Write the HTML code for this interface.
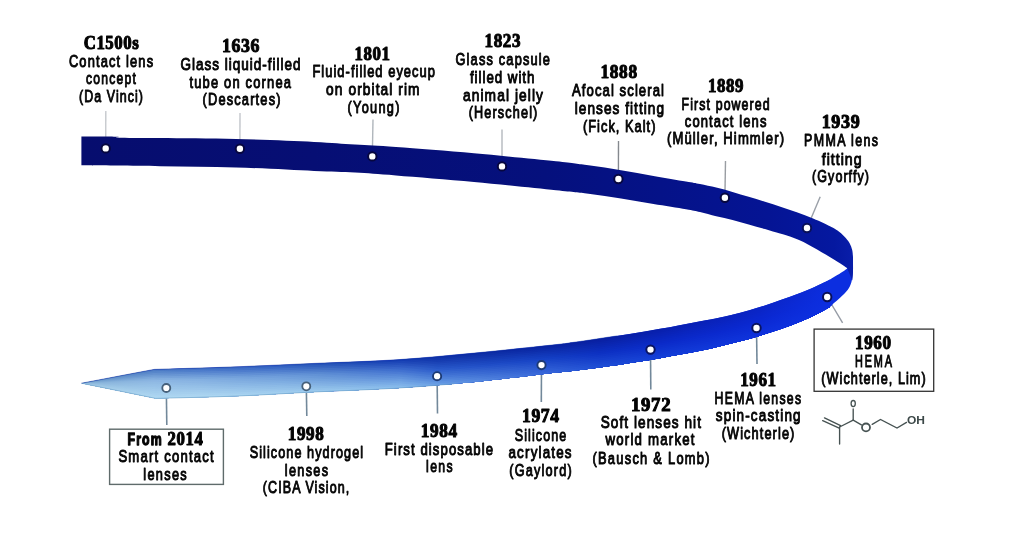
<!DOCTYPE html>
<html lang="en">
<head>
<meta charset="utf-8">
<title>Contact lens timeline</title>
<style>
html,body{margin:0;padding:0;background:#fff;}
body{width:1024px;height:554px;overflow:hidden;font-family:"Liberation Sans",sans-serif;}
svg{display:block;}
.y{font-family:"Liberation Serif",serif;font-weight:bold;font-size:18px;fill:#030303;stroke:#030303;stroke-width:1.0px;stroke-linejoin:round;}
.d{font-family:"Liberation Sans",sans-serif;font-size:17.4px;fill:#050505;stroke:#050505;stroke-width:1.0px;stroke-linejoin:round;}
.fb{font-family:"Liberation Sans",sans-serif;font-weight:bold;font-size:17px;fill:#030303;stroke:#030303;stroke-width:1.3px;stroke-linejoin:round;}
.c{stroke:#c2c6cc;stroke-width:1.4;fill:none;}
.cb{stroke:#72889a;stroke-width:1.6;fill:none;}
.chem{stroke:#465252;stroke-width:1.35;fill:none;stroke-linecap:round;}
.ct{font-family:"Liberation Sans",sans-serif;font-weight:bold;fill:#3c4848;}
</style>
</head>
<body>
<svg width="1024" height="554" viewBox="0 0 1024 554">
<defs>
<linearGradient id="gt" gradientUnits="userSpaceOnUse" x1="81" y1="0" x2="854" y2="0">
<stop offset="0" stop-color="#060d6e"/>
<stop offset=".3" stop-color="#060e74"/>
<stop offset=".6" stop-color="#05107d"/>
<stop offset=".75" stop-color="#051288"/>
<stop offset=".89" stop-color="#051494"/>
<stop offset=".975" stop-color="#0518a0"/>
<stop offset="1" stop-color="#091eaa"/>
</linearGradient>
<linearGradient id="s0" gradientUnits="userSpaceOnUse" x1="81.5" y1="0" x2="836" y2="0"><stop offset="0.0000" stop-color="#6c9cc9"/><stop offset="0.0974" stop-color="#4c7bc5"/><stop offset="0.1571" stop-color="#4271c6"/><stop offset="0.2631" stop-color="#2f5ec0"/><stop offset="0.3161" stop-color="#2553b7"/><stop offset="0.4221" stop-color="#143db3"/><stop offset="0.4712" stop-color="#0e31a7"/><stop offset="0.5414" stop-color="#0b2aa3"/><stop offset="0.6143" stop-color="#0924a1"/><stop offset="0.6872" stop-color="#081fa0"/><stop offset="0.7667" stop-color="#081fac"/><stop offset="0.8993" stop-color="#0a24c5"/><stop offset="1.0000" stop-color="#0c2ee0"/></linearGradient>
<linearGradient id="s1" gradientUnits="userSpaceOnUse" x1="81.5" y1="0" x2="836" y2="0"><stop offset="0.0000" stop-color="#71a0cc"/><stop offset="0.0974" stop-color="#5786ca"/><stop offset="0.1571" stop-color="#4d7ccb"/><stop offset="0.2631" stop-color="#3a69c5"/><stop offset="0.3161" stop-color="#2f5ebc"/><stop offset="0.4221" stop-color="#1c46b8"/><stop offset="0.4712" stop-color="#1237ac"/><stop offset="0.5414" stop-color="#0e30a8"/><stop offset="0.6143" stop-color="#0a28a6"/><stop offset="0.6872" stop-color="#0921a5"/><stop offset="0.7667" stop-color="#0820b0"/><stop offset="0.8993" stop-color="#0a25c7"/><stop offset="1.0000" stop-color="#0c2ee0"/></linearGradient>
<linearGradient id="s2" gradientUnits="userSpaceOnUse" x1="81.5" y1="0" x2="836" y2="0"><stop offset="0.0000" stop-color="#76a4cf"/><stop offset="0.0974" stop-color="#6390cf"/><stop offset="0.1571" stop-color="#5987d0"/><stop offset="0.2631" stop-color="#4574ca"/><stop offset="0.3161" stop-color="#3968c1"/><stop offset="0.4221" stop-color="#244fbd"/><stop offset="0.4712" stop-color="#163db1"/><stop offset="0.5414" stop-color="#1134ad"/><stop offset="0.6143" stop-color="#0c2cab"/><stop offset="0.6872" stop-color="#0924a9"/><stop offset="0.7667" stop-color="#0922b3"/><stop offset="0.8993" stop-color="#0a25c8"/><stop offset="1.0000" stop-color="#0c2ee0"/></linearGradient>
<linearGradient id="s3" gradientUnits="userSpaceOnUse" x1="81.5" y1="0" x2="836" y2="0"><stop offset="0.0000" stop-color="#7aa8d1"/><stop offset="0.0974" stop-color="#6e9bd4"/><stop offset="0.1571" stop-color="#6492d4"/><stop offset="0.2631" stop-color="#507fce"/><stop offset="0.3161" stop-color="#4473c6"/><stop offset="0.4221" stop-color="#2c58c2"/><stop offset="0.4712" stop-color="#1b43b6"/><stop offset="0.5414" stop-color="#143ab2"/><stop offset="0.6143" stop-color="#0e31b0"/><stop offset="0.6872" stop-color="#0a26ae"/><stop offset="0.7667" stop-color="#0923b7"/><stop offset="0.8993" stop-color="#0a26ca"/><stop offset="1.0000" stop-color="#0c2ee0"/></linearGradient>
<linearGradient id="s4" gradientUnits="userSpaceOnUse" x1="81.5" y1="0" x2="836" y2="0"><stop offset="0.0000" stop-color="#7facd4"/><stop offset="0.0974" stop-color="#7aa5da"/><stop offset="0.1571" stop-color="#709dd9"/><stop offset="0.2631" stop-color="#5b8ad3"/><stop offset="0.3161" stop-color="#4e7dcc"/><stop offset="0.4221" stop-color="#3461c8"/><stop offset="0.4712" stop-color="#1f4abc"/><stop offset="0.5414" stop-color="#163eb8"/><stop offset="0.6143" stop-color="#1035b6"/><stop offset="0.6872" stop-color="#0a28b2"/><stop offset="0.7667" stop-color="#0925bb"/><stop offset="0.8993" stop-color="#0a26cc"/><stop offset="1.0000" stop-color="#0c2ee0"/></linearGradient>
<linearGradient id="s5" gradientUnits="userSpaceOnUse" x1="81.5" y1="0" x2="836" y2="0"><stop offset="0.0000" stop-color="#83b0d6"/><stop offset="0.0974" stop-color="#85b0df"/><stop offset="0.1571" stop-color="#7ba8dd"/><stop offset="0.2631" stop-color="#6695d7"/><stop offset="0.3161" stop-color="#5888d1"/><stop offset="0.4221" stop-color="#3b6bcd"/><stop offset="0.4712" stop-color="#2350c1"/><stop offset="0.5414" stop-color="#1944bd"/><stop offset="0.6143" stop-color="#1139bb"/><stop offset="0.6872" stop-color="#0b2ab7"/><stop offset="0.7667" stop-color="#0926bf"/><stop offset="0.8993" stop-color="#0a27ce"/><stop offset="1.0000" stop-color="#0c2ee0"/></linearGradient>
<linearGradient id="s6" gradientUnits="userSpaceOnUse" x1="81.5" y1="0" x2="836" y2="0"><stop offset="0.0000" stop-color="#87b3d9"/><stop offset="0.0974" stop-color="#8eb7e3"/><stop offset="0.1571" stop-color="#84b0e1"/><stop offset="0.2631" stop-color="#6e9ddb"/><stop offset="0.3161" stop-color="#6191d5"/><stop offset="0.4221" stop-color="#4373d1"/><stop offset="0.4712" stop-color="#2756c6"/><stop offset="0.5414" stop-color="#1c48c2"/><stop offset="0.6143" stop-color="#133dc0"/><stop offset="0.6872" stop-color="#0b2dbb"/><stop offset="0.7667" stop-color="#0a28c2"/><stop offset="0.8993" stop-color="#0a27cf"/><stop offset="1.0000" stop-color="#0c2ee0"/></linearGradient>
<linearGradient id="s7" gradientUnits="userSpaceOnUse" x1="81.5" y1="0" x2="836" y2="0"><stop offset="0.0000" stop-color="#8ab5da"/><stop offset="0.0974" stop-color="#91bbe4"/><stop offset="0.1571" stop-color="#89b4e3"/><stop offset="0.2631" stop-color="#74a3dd"/><stop offset="0.3161" stop-color="#6797d8"/><stop offset="0.4221" stop-color="#4b7bd4"/><stop offset="0.4712" stop-color="#2c5ccb"/><stop offset="0.5414" stop-color="#204ec7"/><stop offset="0.6143" stop-color="#1541c5"/><stop offset="0.6872" stop-color="#0c2fc0"/><stop offset="0.7667" stop-color="#0a29c6"/><stop offset="0.8993" stop-color="#0a28d1"/><stop offset="1.0000" stop-color="#0c2ee0"/></linearGradient>
<linearGradient id="s8" gradientUnits="userSpaceOnUse" x1="81.5" y1="0" x2="836" y2="0"><stop offset="0.0000" stop-color="#8db8db"/><stop offset="0.0974" stop-color="#95bfe6"/><stop offset="0.1571" stop-color="#8db8e4"/><stop offset="0.2631" stop-color="#7aa8df"/><stop offset="0.3161" stop-color="#6d9dda"/><stop offset="0.4221" stop-color="#5384d7"/><stop offset="0.4712" stop-color="#3465ce"/><stop offset="0.5414" stop-color="#2654ca"/><stop offset="0.6143" stop-color="#1946c7"/><stop offset="0.6872" stop-color="#0d32c3"/><stop offset="0.7667" stop-color="#0b2bc9"/><stop offset="0.8993" stop-color="#0a29d3"/><stop offset="1.0000" stop-color="#0c2ee0"/></linearGradient>
<linearGradient id="s9" gradientUnits="userSpaceOnUse" x1="81.5" y1="0" x2="836" y2="0"><stop offset="0.0000" stop-color="#90badd"/><stop offset="0.0974" stop-color="#98c2e8"/><stop offset="0.1571" stop-color="#92bde6"/><stop offset="0.2631" stop-color="#7faee2"/><stop offset="0.3161" stop-color="#73a3dd"/><stop offset="0.4221" stop-color="#5a8cda"/><stop offset="0.4712" stop-color="#3b6dd1"/><stop offset="0.5414" stop-color="#2c5bcc"/><stop offset="0.6143" stop-color="#1d4aca"/><stop offset="0.6872" stop-color="#1036c6"/><stop offset="0.7667" stop-color="#0c2ecb"/><stop offset="0.8993" stop-color="#0b2ad4"/><stop offset="1.0000" stop-color="#0c2ee0"/></linearGradient>
<linearGradient id="s10" gradientUnits="userSpaceOnUse" x1="81.5" y1="0" x2="836" y2="0"><stop offset="0.0000" stop-color="#92bdde"/><stop offset="0.0974" stop-color="#9cc6e9"/><stop offset="0.1571" stop-color="#96c1e8"/><stop offset="0.2631" stop-color="#85b3e4"/><stop offset="0.3161" stop-color="#7aa9e0"/><stop offset="0.4221" stop-color="#6294dd"/><stop offset="0.4712" stop-color="#4375d4"/><stop offset="0.5414" stop-color="#3261cf"/><stop offset="0.6143" stop-color="#224fcc"/><stop offset="0.6872" stop-color="#123ac8"/><stop offset="0.7667" stop-color="#0d31cd"/><stop offset="0.8993" stop-color="#0b2bd5"/><stop offset="1.0000" stop-color="#0c2ee0"/></linearGradient>
<linearGradient id="s11" gradientUnits="userSpaceOnUse" x1="81.5" y1="0" x2="836" y2="0"><stop offset="0.0000" stop-color="#95bfe0"/><stop offset="0.0974" stop-color="#a0c9eb"/><stop offset="0.1571" stop-color="#9bc5ea"/><stop offset="0.2631" stop-color="#8bb9e6"/><stop offset="0.3161" stop-color="#80afe2"/><stop offset="0.4221" stop-color="#6a9ce0"/><stop offset="0.4712" stop-color="#4a7dd8"/><stop offset="0.5414" stop-color="#3767d2"/><stop offset="0.6143" stop-color="#2654cf"/><stop offset="0.6872" stop-color="#153ecb"/><stop offset="0.7667" stop-color="#0e34cf"/><stop offset="0.8993" stop-color="#0c2cd6"/><stop offset="1.0000" stop-color="#0c2ee0"/></linearGradient>
<linearGradient id="s12" gradientUnits="userSpaceOnUse" x1="81.5" y1="0" x2="836" y2="0"><stop offset="0.0000" stop-color="#98c2e1"/><stop offset="0.0974" stop-color="#a3cdec"/><stop offset="0.1571" stop-color="#a0caec"/><stop offset="0.2631" stop-color="#90bee8"/><stop offset="0.3161" stop-color="#86b5e5"/><stop offset="0.4221" stop-color="#71a4e3"/><stop offset="0.4712" stop-color="#5285db"/><stop offset="0.5414" stop-color="#3d6ed4"/><stop offset="0.6143" stop-color="#2a58d1"/><stop offset="0.6872" stop-color="#1742cd"/><stop offset="0.7667" stop-color="#1036d1"/><stop offset="0.8993" stop-color="#0c2ed8"/><stop offset="1.0000" stop-color="#0c2ee0"/></linearGradient>
<linearGradient id="s13" gradientUnits="userSpaceOnUse" x1="81.5" y1="0" x2="836" y2="0"><stop offset="0.0000" stop-color="#9bc4e2"/><stop offset="0.0974" stop-color="#a7d0ee"/><stop offset="0.1571" stop-color="#a4ceed"/><stop offset="0.2631" stop-color="#96c3ea"/><stop offset="0.3161" stop-color="#8cbce7"/><stop offset="0.4221" stop-color="#79ace6"/><stop offset="0.4712" stop-color="#598ede"/><stop offset="0.5414" stop-color="#4374d7"/><stop offset="0.6143" stop-color="#2e5dd4"/><stop offset="0.6872" stop-color="#1a46d0"/><stop offset="0.7667" stop-color="#1139d3"/><stop offset="0.8993" stop-color="#0d2fd9"/><stop offset="1.0000" stop-color="#0c2ee0"/></linearGradient>
<linearGradient id="s14" gradientUnits="userSpaceOnUse" x1="81.5" y1="0" x2="836" y2="0"><stop offset="0.0000" stop-color="#9ec6e4"/><stop offset="0.0974" stop-color="#abd4f0"/><stop offset="0.1571" stop-color="#a9d2ef"/><stop offset="0.2631" stop-color="#9cc9ed"/><stop offset="0.3161" stop-color="#93c2ea"/><stop offset="0.4221" stop-color="#81b4e9"/><stop offset="0.4712" stop-color="#6196e1"/><stop offset="0.5414" stop-color="#497ada"/><stop offset="0.6143" stop-color="#3261d6"/><stop offset="0.6872" stop-color="#1c4ad2"/><stop offset="0.7667" stop-color="#123cd5"/><stop offset="0.8993" stop-color="#0d30da"/><stop offset="1.0000" stop-color="#0c2ee0"/></linearGradient>
<linearGradient id="s15" gradientUnits="userSpaceOnUse" x1="81.5" y1="0" x2="836" y2="0"><stop offset="0.0000" stop-color="#a1c9e5"/><stop offset="0.0974" stop-color="#aed7f1"/><stop offset="0.1571" stop-color="#aed7f1"/><stop offset="0.2631" stop-color="#a1ceef"/><stop offset="0.3161" stop-color="#99c8ed"/><stop offset="0.4221" stop-color="#88bcec"/><stop offset="0.4712" stop-color="#689ee4"/><stop offset="0.5414" stop-color="#4f81dd"/><stop offset="0.6143" stop-color="#3666d9"/><stop offset="0.6872" stop-color="#1f4ed5"/><stop offset="0.7667" stop-color="#133fd7"/><stop offset="0.8993" stop-color="#0e31db"/><stop offset="1.0000" stop-color="#0c2ee0"/></linearGradient>
</defs>
<rect width="1024" height="554" fill="#fff"/>
<path class="c" style="stroke:#c6c9ce" d="M105.7,148.4 L105.8,111.0"/>
<path class="c" style="stroke:#c2c6cb" d="M239.9,148.7 L240.0,113.0"/>
<path class="c" style="stroke:#b0b6bc" d="M372.3,156.4 L373.0,119.5"/>
<path class="c" style="stroke:#b4b8be" d="M502.0,166.4 L502.0,129.5"/>
<path class="c" style="stroke:#85898e" d="M618.4,179.0 L618.5,141.0"/>
<path class="c" style="stroke:#999da2" d="M724.9,197.8 L725.5,161.0"/>
<path class="c" style="stroke:#9aa0a8" d="M807.0,228.0 L820.2,196.8"/>
<path class="c" style="stroke:#959ba4" d="M827.2,297.0 L842.6,322.8"/>
<path class="cb" d="M756.5,328.0 L757.0,364.0"/>
<path class="cb" d="M650.5,349.6 L650.8,389.6"/>
<path class="cb" d="M541.5,365.1 L541.3,402.0"/>
<path class="cb" d="M437.1,376.2 L437.5,413.6"/>
<path class="cb" d="M306.3,386.3 L306.8,416.0"/>
<path class="cb" d="M166.3,388.0 L166.8,425.0"/>
<path d="M847.30,268.40 C846.58,268.90 844.58,270.33 843.00,271.40 C841.42,272.47 839.97,273.47 837.80,274.80 C835.63,276.13 832.42,278.07 830.00,279.40 C827.58,280.73 826.02,281.47 823.30,282.80 C820.58,284.13 818.00,285.53 813.70,287.40 C809.40,289.27 802.92,291.93 797.50,294.00 C792.08,296.07 786.62,297.88 781.20,299.80 C775.78,301.72 770.42,303.73 765.00,305.50 C759.58,307.27 754.12,308.87 748.70,310.40 C743.28,311.93 737.92,313.37 732.50,314.70 C727.08,316.03 721.25,317.37 716.20,318.40 C711.15,319.43 707.23,319.97 702.20,320.90 C697.17,321.83 691.42,322.95 686.00,324.00 C680.58,325.05 675.12,326.22 669.70,327.20 C664.28,328.18 658.92,328.98 653.50,329.90 C648.08,330.82 642.62,331.80 637.20,332.70 C631.78,333.60 626.42,334.47 621.00,335.30 C615.58,336.13 610.12,336.88 604.70,337.70 C599.28,338.52 593.92,339.40 588.50,340.20 C583.08,341.00 577.62,341.77 572.20,342.50 C566.78,343.23 572.37,342.83 556.00,344.60 C539.63,346.37 500.67,350.57 474.00,353.10 C447.33,355.63 422.67,358.08 396.00,359.80 C369.33,361.52 340.67,362.23 314.00,363.40 C287.33,364.57 262.67,365.80 236.00,366.80 C209.33,367.80 167.67,368.97 154.00,369.40 L81.50,383.20 L155.70,398.40 C169.08,398.02 209.62,397.17 236.00,396.10 C262.38,395.03 287.33,393.32 314.00,392.00 C340.67,390.68 369.33,389.87 396.00,388.20 C422.67,386.53 447.33,384.60 474.00,382.00 C500.67,379.40 539.63,374.43 556.00,372.60 C572.37,370.77 566.78,371.62 572.20,371.00 C577.62,370.38 583.08,369.60 588.50,368.90 C593.92,368.20 599.28,367.53 604.70,366.80 C610.12,366.07 615.58,365.32 621.00,364.50 C626.42,363.68 631.78,362.77 637.20,361.90 C642.62,361.03 648.08,360.22 653.50,359.30 C658.92,358.38 664.28,357.37 669.70,356.40 C675.12,355.43 680.58,354.50 686.00,353.50 C691.42,352.50 697.17,351.45 702.20,350.40 C707.23,349.35 711.15,348.42 716.20,347.20 C721.25,345.98 727.08,344.47 732.50,343.10 C737.92,341.73 743.28,340.48 748.70,339.00 C754.12,337.52 759.58,335.90 765.00,334.20 C770.42,332.50 775.78,330.70 781.20,328.80 C786.62,326.90 792.08,324.97 797.50,322.80 C802.92,320.63 808.28,318.43 813.70,315.80 C819.12,313.17 826.72,309.03 830.00,307.00 C833.28,304.97 831.63,305.23 833.40,303.60 C835.17,301.97 838.23,299.47 840.60,297.20 C842.97,294.93 845.82,292.47 847.60,290.00 C849.38,287.53 850.42,285.28 851.30,282.40 C852.18,279.52 852.62,276.10 852.90,272.70 C853.18,269.30 852.98,264.62 853.00,262.00 C853.02,259.38 853.00,257.83 853.00,257.00 Z" fill="#0c2ee0"/>
<path d="M81.50,383.20 L100.00,379.68 L120.00,375.87 L140.00,372.06 L154.00,369.40 L155.70,369.35 L160.00,369.22 L170.00,368.92 L180.00,368.62 L190.00,368.32 L200.00,368.01 L210.00,367.69 L220.00,367.36 L230.00,367.01 L240.00,366.64 L250.00,366.25 L260.00,365.82 L270.00,365.38 L280.00,364.94 L290.00,364.48 L300.00,364.02 L310.00,363.58 L320.00,363.15 L330.00,362.75 L340.00,362.37 L350.00,362.00 L360.00,361.60 L370.00,361.18 L380.00,360.70 L390.00,360.15 L400.00,359.52 L410.00,358.82 L420.00,358.03 L430.00,357.19 L440.00,356.30 L450.00,355.38 L460.00,354.43 L470.00,353.48 L480.00,352.51 L490.00,351.53 L500.00,350.52 L510.00,349.48 L520.00,348.44 L530.00,347.38 L540.00,346.32 L550.00,345.25 L560.00,344.16 L570.00,342.83 L580.00,341.42 L590.00,339.97 L600.00,338.42 L610.00,336.92 L620.00,335.45 L630.00,333.88 L640.00,332.23 L650.00,330.50 L660.00,328.83 L670.00,327.14 L680.00,325.19 L690.00,323.23 L700.00,321.31 L710.00,319.55 L720.00,317.60 L730.00,315.31 L740.00,312.78 L750.00,310.03 L760.00,307.08 L770.00,303.80 L780.00,300.23 L790.00,296.73 L800.00,293.03 L810.00,288.97 L820.00,284.45 L830.00,279.40 L830.00,307.00 L820.00,312.53 L810.00,317.53 L800.00,321.79 L790.00,325.66 L780.00,329.22 L770.00,332.60 L760.00,335.74 L750.00,338.64 L740.00,341.24 L730.00,343.73 L720.00,346.27 L710.00,348.67 L700.00,350.85 L690.00,352.76 L680.00,354.58 L670.00,356.35 L660.00,358.16 L650.00,359.88 L640.00,361.46 L630.00,363.07 L620.00,364.65 L610.00,366.08 L600.00,367.42 L590.00,368.71 L580.00,370.03 L570.00,371.22 L560.00,372.16 L550.00,373.30 L540.00,374.48 L530.00,375.68 L520.00,376.88 L510.00,378.05 L500.00,379.20 L490.00,380.33 L480.00,381.38 L470.00,382.38 L460.00,383.32 L450.00,384.20 L440.00,385.04 L430.00,385.83 L420.00,386.58 L410.00,387.29 L400.00,387.94 L390.00,388.54 L380.00,389.09 L370.00,389.58 L360.00,390.01 L350.00,390.44 L340.00,390.85 L330.00,391.27 L320.00,391.72 L310.00,392.21 L300.00,392.73 L290.00,393.29 L280.00,393.85 L270.00,394.41 L260.00,394.96 L250.00,395.47 L240.00,395.92 L230.00,396.32 L220.00,396.67 L210.00,396.98 L200.00,397.26 L190.00,397.53 L180.00,397.78 L170.00,398.03 L160.00,398.29 L155.70,398.40 L154.00,398.05 L140.00,395.18 L120.00,391.09 L100.00,386.99 L81.50,383.20 Z" fill="url(#s0)"/>
<path d="M81.50,383.20 L100.00,380.14 L120.00,376.82 L140.00,373.51 L154.00,371.19 L155.70,371.16 L160.00,371.03 L170.00,370.74 L180.00,370.44 L190.00,370.14 L200.00,369.83 L210.00,369.52 L220.00,369.19 L230.00,368.84 L240.00,368.47 L250.00,368.07 L260.00,367.65 L270.00,367.20 L280.00,366.74 L290.00,366.28 L300.00,365.82 L310.00,365.37 L320.00,364.94 L330.00,364.53 L340.00,364.15 L350.00,363.77 L360.00,363.38 L370.00,362.96 L380.00,362.48 L390.00,361.92 L400.00,361.30 L410.00,360.60 L420.00,359.82 L430.00,358.98 L440.00,358.10 L450.00,357.18 L460.00,356.24 L470.00,355.29 L480.00,354.32 L490.00,353.33 L500.00,352.31 L510.00,351.27 L520.00,350.22 L530.00,349.15 L540.00,348.08 L550.00,347.00 L560.00,345.91 L570.00,344.61 L580.00,343.21 L590.00,341.77 L600.00,340.24 L610.00,338.74 L620.00,337.28 L630.00,335.70 L640.00,334.06 L650.00,332.34 L660.00,330.67 L670.00,328.97 L680.00,327.03 L690.00,325.07 L700.00,323.16 L710.00,321.37 L720.00,319.39 L730.00,317.08 L740.00,314.56 L750.00,311.82 L760.00,308.87 L770.00,305.60 L780.00,302.04 L790.00,298.54 L800.00,294.83 L810.00,290.76 L820.00,286.20 L830.00,281.12 L830.00,307.00 L820.00,312.53 L810.00,317.53 L800.00,321.79 L790.00,325.66 L780.00,329.22 L770.00,332.60 L760.00,335.74 L750.00,338.64 L740.00,341.24 L730.00,343.73 L720.00,346.27 L710.00,348.67 L700.00,350.85 L690.00,352.76 L680.00,354.58 L670.00,356.35 L660.00,358.16 L650.00,359.88 L640.00,361.46 L630.00,363.07 L620.00,364.65 L610.00,366.08 L600.00,367.42 L590.00,368.71 L580.00,370.03 L570.00,371.22 L560.00,372.16 L550.00,373.30 L540.00,374.48 L530.00,375.68 L520.00,376.88 L510.00,378.05 L500.00,379.20 L490.00,380.33 L480.00,381.38 L470.00,382.38 L460.00,383.32 L450.00,384.20 L440.00,385.04 L430.00,385.83 L420.00,386.58 L410.00,387.29 L400.00,387.94 L390.00,388.54 L380.00,389.09 L370.00,389.58 L360.00,390.01 L350.00,390.44 L340.00,390.85 L330.00,391.27 L320.00,391.72 L310.00,392.21 L300.00,392.73 L290.00,393.29 L280.00,393.85 L270.00,394.41 L260.00,394.96 L250.00,395.47 L240.00,395.92 L230.00,396.32 L220.00,396.67 L210.00,396.98 L200.00,397.26 L190.00,397.53 L180.00,397.78 L170.00,398.03 L160.00,398.29 L155.70,398.40 L154.00,398.05 L140.00,395.18 L120.00,391.09 L100.00,386.99 L81.50,383.20 Z" fill="url(#s1)"/>
<path d="M81.50,383.20 L100.00,380.59 L120.00,377.77 L140.00,374.95 L154.00,372.98 L155.70,372.98 L160.00,372.85 L170.00,372.56 L180.00,372.26 L190.00,371.97 L200.00,371.66 L210.00,371.35 L220.00,371.03 L230.00,370.68 L240.00,370.30 L250.00,369.90 L260.00,369.47 L270.00,369.01 L280.00,368.55 L290.00,368.08 L300.00,367.61 L310.00,367.16 L320.00,366.73 L330.00,366.32 L340.00,365.93 L350.00,365.55 L360.00,365.15 L370.00,364.73 L380.00,364.25 L390.00,363.70 L400.00,363.07 L410.00,362.38 L420.00,361.60 L430.00,360.77 L440.00,359.89 L450.00,358.98 L460.00,358.04 L470.00,357.09 L480.00,356.12 L490.00,355.13 L500.00,354.10 L510.00,353.06 L520.00,352.00 L530.00,350.92 L540.00,349.84 L550.00,348.75 L560.00,347.66 L570.00,346.38 L580.00,345.00 L590.00,343.57 L600.00,342.05 L610.00,340.56 L620.00,339.10 L630.00,337.53 L640.00,335.88 L650.00,334.17 L660.00,332.50 L670.00,330.79 L680.00,328.87 L690.00,326.92 L700.00,325.00 L710.00,323.19 L720.00,321.18 L730.00,318.86 L740.00,316.34 L750.00,313.61 L760.00,310.66 L770.00,307.40 L780.00,303.85 L790.00,300.34 L800.00,296.63 L810.00,292.54 L820.00,287.96 L830.00,282.85 L830.00,307.00 L820.00,312.53 L810.00,317.53 L800.00,321.79 L790.00,325.66 L780.00,329.22 L770.00,332.60 L760.00,335.74 L750.00,338.64 L740.00,341.24 L730.00,343.73 L720.00,346.27 L710.00,348.67 L700.00,350.85 L690.00,352.76 L680.00,354.58 L670.00,356.35 L660.00,358.16 L650.00,359.88 L640.00,361.46 L630.00,363.07 L620.00,364.65 L610.00,366.08 L600.00,367.42 L590.00,368.71 L580.00,370.03 L570.00,371.22 L560.00,372.16 L550.00,373.30 L540.00,374.48 L530.00,375.68 L520.00,376.88 L510.00,378.05 L500.00,379.20 L490.00,380.33 L480.00,381.38 L470.00,382.38 L460.00,383.32 L450.00,384.20 L440.00,385.04 L430.00,385.83 L420.00,386.58 L410.00,387.29 L400.00,387.94 L390.00,388.54 L380.00,389.09 L370.00,389.58 L360.00,390.01 L350.00,390.44 L340.00,390.85 L330.00,391.27 L320.00,391.72 L310.00,392.21 L300.00,392.73 L290.00,393.29 L280.00,393.85 L270.00,394.41 L260.00,394.96 L250.00,395.47 L240.00,395.92 L230.00,396.32 L220.00,396.67 L210.00,396.98 L200.00,397.26 L190.00,397.53 L180.00,397.78 L170.00,398.03 L160.00,398.29 L155.70,398.40 L154.00,398.05 L140.00,395.18 L120.00,391.09 L100.00,386.99 L81.50,383.20 Z" fill="url(#s2)"/>
<path d="M81.50,383.20 L100.00,381.05 L120.00,378.72 L140.00,376.40 L154.00,374.77 L155.70,374.80 L160.00,374.67 L170.00,374.38 L180.00,374.09 L190.00,373.79 L200.00,373.49 L210.00,373.18 L220.00,372.86 L230.00,372.51 L240.00,372.13 L250.00,371.73 L260.00,371.29 L270.00,370.83 L280.00,370.36 L290.00,369.88 L300.00,369.41 L310.00,368.95 L320.00,368.51 L330.00,368.10 L340.00,367.71 L350.00,367.33 L360.00,366.93 L370.00,366.50 L380.00,366.03 L390.00,365.47 L400.00,364.85 L410.00,364.16 L420.00,363.38 L430.00,362.56 L440.00,361.69 L450.00,360.78 L460.00,359.85 L470.00,358.90 L480.00,357.93 L490.00,356.93 L500.00,355.89 L510.00,354.84 L520.00,353.77 L530.00,352.69 L540.00,351.60 L550.00,350.51 L560.00,349.41 L570.00,348.16 L580.00,346.79 L590.00,345.36 L600.00,343.86 L610.00,342.39 L620.00,340.93 L630.00,339.35 L640.00,337.71 L650.00,336.01 L660.00,334.33 L670.00,332.62 L680.00,330.70 L690.00,328.76 L700.00,326.85 L710.00,325.01 L720.00,322.97 L730.00,320.64 L740.00,318.12 L750.00,315.39 L760.00,312.45 L770.00,309.20 L780.00,305.66 L790.00,302.15 L800.00,298.43 L810.00,294.33 L820.00,289.71 L830.00,284.57 L830.00,307.00 L820.00,312.53 L810.00,317.53 L800.00,321.79 L790.00,325.66 L780.00,329.22 L770.00,332.60 L760.00,335.74 L750.00,338.64 L740.00,341.24 L730.00,343.73 L720.00,346.27 L710.00,348.67 L700.00,350.85 L690.00,352.76 L680.00,354.58 L670.00,356.35 L660.00,358.16 L650.00,359.88 L640.00,361.46 L630.00,363.07 L620.00,364.65 L610.00,366.08 L600.00,367.42 L590.00,368.71 L580.00,370.03 L570.00,371.22 L560.00,372.16 L550.00,373.30 L540.00,374.48 L530.00,375.68 L520.00,376.88 L510.00,378.05 L500.00,379.20 L490.00,380.33 L480.00,381.38 L470.00,382.38 L460.00,383.32 L450.00,384.20 L440.00,385.04 L430.00,385.83 L420.00,386.58 L410.00,387.29 L400.00,387.94 L390.00,388.54 L380.00,389.09 L370.00,389.58 L360.00,390.01 L350.00,390.44 L340.00,390.85 L330.00,391.27 L320.00,391.72 L310.00,392.21 L300.00,392.73 L290.00,393.29 L280.00,393.85 L270.00,394.41 L260.00,394.96 L250.00,395.47 L240.00,395.92 L230.00,396.32 L220.00,396.67 L210.00,396.98 L200.00,397.26 L190.00,397.53 L180.00,397.78 L170.00,398.03 L160.00,398.29 L155.70,398.40 L154.00,398.05 L140.00,395.18 L120.00,391.09 L100.00,386.99 L81.50,383.20 Z" fill="url(#s3)"/>
<path d="M81.50,383.20 L100.00,381.51 L120.00,379.68 L140.00,377.84 L154.00,376.56 L155.70,376.61 L160.00,376.48 L170.00,376.20 L180.00,375.91 L190.00,375.62 L200.00,375.32 L210.00,375.01 L220.00,374.69 L230.00,374.34 L240.00,373.96 L250.00,373.55 L260.00,373.11 L270.00,372.64 L280.00,372.16 L290.00,371.68 L300.00,371.20 L310.00,370.74 L320.00,370.30 L330.00,369.88 L340.00,369.49 L350.00,369.11 L360.00,368.70 L370.00,368.28 L380.00,367.80 L390.00,367.25 L400.00,366.63 L410.00,365.94 L420.00,365.17 L430.00,364.35 L440.00,363.48 L450.00,362.58 L460.00,361.65 L470.00,360.71 L480.00,359.73 L490.00,358.73 L500.00,357.69 L510.00,356.63 L520.00,355.55 L530.00,354.46 L540.00,353.36 L550.00,352.26 L560.00,351.16 L570.00,349.93 L580.00,348.57 L590.00,347.16 L600.00,345.67 L610.00,344.21 L620.00,342.75 L630.00,341.18 L640.00,339.54 L650.00,337.84 L660.00,336.16 L670.00,334.44 L680.00,332.54 L690.00,330.61 L700.00,328.70 L710.00,326.83 L720.00,324.76 L730.00,322.41 L740.00,319.90 L750.00,317.18 L760.00,314.25 L770.00,311.00 L780.00,307.48 L790.00,303.96 L800.00,300.22 L810.00,296.11 L820.00,291.47 L830.00,286.30 L830.00,307.00 L820.00,312.53 L810.00,317.53 L800.00,321.79 L790.00,325.66 L780.00,329.22 L770.00,332.60 L760.00,335.74 L750.00,338.64 L740.00,341.24 L730.00,343.73 L720.00,346.27 L710.00,348.67 L700.00,350.85 L690.00,352.76 L680.00,354.58 L670.00,356.35 L660.00,358.16 L650.00,359.88 L640.00,361.46 L630.00,363.07 L620.00,364.65 L610.00,366.08 L600.00,367.42 L590.00,368.71 L580.00,370.03 L570.00,371.22 L560.00,372.16 L550.00,373.30 L540.00,374.48 L530.00,375.68 L520.00,376.88 L510.00,378.05 L500.00,379.20 L490.00,380.33 L480.00,381.38 L470.00,382.38 L460.00,383.32 L450.00,384.20 L440.00,385.04 L430.00,385.83 L420.00,386.58 L410.00,387.29 L400.00,387.94 L390.00,388.54 L380.00,389.09 L370.00,389.58 L360.00,390.01 L350.00,390.44 L340.00,390.85 L330.00,391.27 L320.00,391.72 L310.00,392.21 L300.00,392.73 L290.00,393.29 L280.00,393.85 L270.00,394.41 L260.00,394.96 L250.00,395.47 L240.00,395.92 L230.00,396.32 L220.00,396.67 L210.00,396.98 L200.00,397.26 L190.00,397.53 L180.00,397.78 L170.00,398.03 L160.00,398.29 L155.70,398.40 L154.00,398.05 L140.00,395.18 L120.00,391.09 L100.00,386.99 L81.50,383.20 Z" fill="url(#s4)"/>
<path d="M81.50,383.20 L100.00,381.96 L120.00,380.63 L140.00,379.29 L154.00,378.35 L155.70,378.43 L160.00,378.30 L170.00,378.02 L180.00,377.73 L190.00,377.45 L200.00,377.15 L210.00,376.84 L220.00,376.52 L230.00,376.17 L240.00,375.79 L250.00,375.38 L260.00,374.93 L270.00,374.46 L280.00,373.97 L290.00,373.48 L300.00,373.00 L310.00,372.53 L320.00,372.08 L330.00,371.66 L340.00,371.27 L350.00,370.88 L360.00,370.48 L370.00,370.05 L380.00,369.57 L390.00,369.02 L400.00,368.40 L410.00,367.71 L420.00,366.95 L430.00,366.14 L440.00,365.28 L450.00,364.39 L460.00,363.46 L470.00,362.51 L480.00,361.53 L490.00,360.53 L500.00,359.48 L510.00,358.41 L520.00,357.33 L530.00,356.23 L540.00,355.12 L550.00,354.01 L560.00,352.91 L570.00,351.71 L580.00,350.36 L590.00,348.95 L600.00,347.49 L610.00,346.03 L620.00,344.58 L630.00,343.00 L640.00,341.36 L650.00,339.68 L660.00,338.00 L670.00,336.27 L680.00,334.38 L690.00,332.46 L700.00,330.54 L710.00,328.65 L720.00,326.56 L730.00,324.19 L740.00,321.68 L750.00,318.97 L760.00,316.04 L770.00,312.80 L780.00,309.29 L790.00,305.77 L800.00,302.02 L810.00,297.90 L820.00,293.22 L830.00,288.02 L830.00,307.00 L820.00,312.53 L810.00,317.53 L800.00,321.79 L790.00,325.66 L780.00,329.22 L770.00,332.60 L760.00,335.74 L750.00,338.64 L740.00,341.24 L730.00,343.73 L720.00,346.27 L710.00,348.67 L700.00,350.85 L690.00,352.76 L680.00,354.58 L670.00,356.35 L660.00,358.16 L650.00,359.88 L640.00,361.46 L630.00,363.07 L620.00,364.65 L610.00,366.08 L600.00,367.42 L590.00,368.71 L580.00,370.03 L570.00,371.22 L560.00,372.16 L550.00,373.30 L540.00,374.48 L530.00,375.68 L520.00,376.88 L510.00,378.05 L500.00,379.20 L490.00,380.33 L480.00,381.38 L470.00,382.38 L460.00,383.32 L450.00,384.20 L440.00,385.04 L430.00,385.83 L420.00,386.58 L410.00,387.29 L400.00,387.94 L390.00,388.54 L380.00,389.09 L370.00,389.58 L360.00,390.01 L350.00,390.44 L340.00,390.85 L330.00,391.27 L320.00,391.72 L310.00,392.21 L300.00,392.73 L290.00,393.29 L280.00,393.85 L270.00,394.41 L260.00,394.96 L250.00,395.47 L240.00,395.92 L230.00,396.32 L220.00,396.67 L210.00,396.98 L200.00,397.26 L190.00,397.53 L180.00,397.78 L170.00,398.03 L160.00,398.29 L155.70,398.40 L154.00,398.05 L140.00,395.18 L120.00,391.09 L100.00,386.99 L81.50,383.20 Z" fill="url(#s5)"/>
<path d="M81.50,383.20 L100.00,382.42 L120.00,381.58 L140.00,380.73 L154.00,380.14 L155.70,380.24 L160.00,380.12 L170.00,379.84 L180.00,379.55 L190.00,379.27 L200.00,378.98 L210.00,378.67 L220.00,378.35 L230.00,378.00 L240.00,377.62 L250.00,377.21 L260.00,376.75 L270.00,376.27 L280.00,375.78 L290.00,375.28 L300.00,374.79 L310.00,374.31 L320.00,373.87 L330.00,373.45 L340.00,373.05 L350.00,372.66 L360.00,372.26 L370.00,371.83 L380.00,371.35 L390.00,370.80 L400.00,370.18 L410.00,369.49 L420.00,368.74 L430.00,367.93 L440.00,367.08 L450.00,366.19 L460.00,365.27 L470.00,364.32 L480.00,363.34 L490.00,362.33 L500.00,361.27 L510.00,360.20 L520.00,359.11 L530.00,358.00 L540.00,356.88 L550.00,355.77 L560.00,354.66 L570.00,353.48 L580.00,352.15 L590.00,350.75 L600.00,349.30 L610.00,347.85 L620.00,346.40 L630.00,344.83 L640.00,343.19 L650.00,341.52 L660.00,339.83 L670.00,338.10 L680.00,336.21 L690.00,334.30 L700.00,332.39 L710.00,330.47 L720.00,328.35 L730.00,325.97 L740.00,323.45 L750.00,320.76 L760.00,317.83 L770.00,314.60 L780.00,311.10 L790.00,307.58 L800.00,303.82 L810.00,299.68 L820.00,294.98 L830.00,289.75 L830.00,307.00 L820.00,312.53 L810.00,317.53 L800.00,321.79 L790.00,325.66 L780.00,329.22 L770.00,332.60 L760.00,335.74 L750.00,338.64 L740.00,341.24 L730.00,343.73 L720.00,346.27 L710.00,348.67 L700.00,350.85 L690.00,352.76 L680.00,354.58 L670.00,356.35 L660.00,358.16 L650.00,359.88 L640.00,361.46 L630.00,363.07 L620.00,364.65 L610.00,366.08 L600.00,367.42 L590.00,368.71 L580.00,370.03 L570.00,371.22 L560.00,372.16 L550.00,373.30 L540.00,374.48 L530.00,375.68 L520.00,376.88 L510.00,378.05 L500.00,379.20 L490.00,380.33 L480.00,381.38 L470.00,382.38 L460.00,383.32 L450.00,384.20 L440.00,385.04 L430.00,385.83 L420.00,386.58 L410.00,387.29 L400.00,387.94 L390.00,388.54 L380.00,389.09 L370.00,389.58 L360.00,390.01 L350.00,390.44 L340.00,390.85 L330.00,391.27 L320.00,391.72 L310.00,392.21 L300.00,392.73 L290.00,393.29 L280.00,393.85 L270.00,394.41 L260.00,394.96 L250.00,395.47 L240.00,395.92 L230.00,396.32 L220.00,396.67 L210.00,396.98 L200.00,397.26 L190.00,397.53 L180.00,397.78 L170.00,398.03 L160.00,398.29 L155.70,398.40 L154.00,398.05 L140.00,395.18 L120.00,391.09 L100.00,386.99 L81.50,383.20 Z" fill="url(#s6)"/>
<path d="M81.50,383.20 L100.00,382.88 L120.00,382.53 L140.00,382.18 L154.00,381.94 L155.70,382.06 L160.00,381.94 L170.00,381.66 L180.00,381.38 L190.00,381.10 L200.00,380.80 L210.00,380.50 L220.00,380.18 L230.00,379.83 L240.00,379.45 L250.00,379.03 L260.00,378.57 L270.00,378.09 L280.00,377.59 L290.00,377.08 L300.00,376.58 L310.00,376.10 L320.00,375.65 L330.00,375.23 L340.00,374.83 L350.00,374.44 L360.00,374.03 L370.00,373.60 L380.00,373.12 L390.00,372.57 L400.00,371.95 L410.00,371.27 L420.00,370.52 L430.00,369.72 L440.00,368.87 L450.00,367.99 L460.00,367.07 L470.00,366.12 L480.00,365.14 L490.00,364.13 L500.00,363.07 L510.00,361.98 L520.00,360.88 L530.00,359.76 L540.00,358.64 L550.00,357.52 L560.00,356.41 L570.00,355.26 L580.00,353.94 L590.00,352.55 L600.00,351.11 L610.00,349.68 L620.00,348.23 L630.00,346.65 L640.00,345.02 L650.00,343.35 L660.00,341.66 L670.00,339.92 L680.00,338.05 L690.00,336.15 L700.00,334.23 L710.00,332.29 L720.00,330.14 L730.00,327.74 L740.00,325.23 L750.00,322.55 L760.00,319.62 L770.00,316.40 L780.00,312.91 L790.00,309.39 L800.00,305.62 L810.00,301.47 L820.00,296.73 L830.00,291.47 L830.00,307.00 L820.00,312.53 L810.00,317.53 L800.00,321.79 L790.00,325.66 L780.00,329.22 L770.00,332.60 L760.00,335.74 L750.00,338.64 L740.00,341.24 L730.00,343.73 L720.00,346.27 L710.00,348.67 L700.00,350.85 L690.00,352.76 L680.00,354.58 L670.00,356.35 L660.00,358.16 L650.00,359.88 L640.00,361.46 L630.00,363.07 L620.00,364.65 L610.00,366.08 L600.00,367.42 L590.00,368.71 L580.00,370.03 L570.00,371.22 L560.00,372.16 L550.00,373.30 L540.00,374.48 L530.00,375.68 L520.00,376.88 L510.00,378.05 L500.00,379.20 L490.00,380.33 L480.00,381.38 L470.00,382.38 L460.00,383.32 L450.00,384.20 L440.00,385.04 L430.00,385.83 L420.00,386.58 L410.00,387.29 L400.00,387.94 L390.00,388.54 L380.00,389.09 L370.00,389.58 L360.00,390.01 L350.00,390.44 L340.00,390.85 L330.00,391.27 L320.00,391.72 L310.00,392.21 L300.00,392.73 L290.00,393.29 L280.00,393.85 L270.00,394.41 L260.00,394.96 L250.00,395.47 L240.00,395.92 L230.00,396.32 L220.00,396.67 L210.00,396.98 L200.00,397.26 L190.00,397.53 L180.00,397.78 L170.00,398.03 L160.00,398.29 L155.70,398.40 L154.00,398.05 L140.00,395.18 L120.00,391.09 L100.00,386.99 L81.50,383.20 Z" fill="url(#s7)"/>
<path d="M81.50,383.20 L100.00,383.33 L120.00,383.48 L140.00,383.62 L154.00,383.73 L155.70,383.87 L160.00,383.75 L170.00,383.48 L180.00,383.20 L190.00,382.92 L200.00,382.63 L210.00,382.33 L220.00,382.02 L230.00,381.67 L240.00,381.28 L250.00,380.86 L260.00,380.39 L270.00,379.90 L280.00,379.39 L290.00,378.88 L300.00,378.38 L310.00,377.89 L320.00,377.44 L330.00,377.01 L340.00,376.61 L350.00,376.22 L360.00,375.81 L370.00,375.38 L380.00,374.90 L390.00,374.35 L400.00,373.73 L410.00,373.05 L420.00,372.31 L430.00,371.51 L440.00,370.67 L450.00,369.79 L460.00,368.88 L470.00,367.93 L480.00,366.95 L490.00,365.93 L500.00,364.86 L510.00,363.77 L520.00,362.66 L530.00,361.53 L540.00,360.40 L550.00,359.27 L560.00,358.16 L570.00,357.03 L580.00,355.73 L590.00,354.34 L600.00,352.92 L610.00,351.50 L620.00,350.05 L630.00,348.48 L640.00,346.84 L650.00,345.19 L660.00,343.50 L670.00,341.75 L680.00,339.89 L690.00,337.99 L700.00,336.08 L710.00,334.11 L720.00,331.93 L730.00,329.52 L740.00,327.01 L750.00,324.33 L760.00,321.41 L770.00,318.20 L780.00,314.72 L790.00,311.19 L800.00,307.41 L810.00,303.25 L820.00,298.49 L830.00,293.20 L830.00,307.00 L820.00,312.53 L810.00,317.53 L800.00,321.79 L790.00,325.66 L780.00,329.22 L770.00,332.60 L760.00,335.74 L750.00,338.64 L740.00,341.24 L730.00,343.73 L720.00,346.27 L710.00,348.67 L700.00,350.85 L690.00,352.76 L680.00,354.58 L670.00,356.35 L660.00,358.16 L650.00,359.88 L640.00,361.46 L630.00,363.07 L620.00,364.65 L610.00,366.08 L600.00,367.42 L590.00,368.71 L580.00,370.03 L570.00,371.22 L560.00,372.16 L550.00,373.30 L540.00,374.48 L530.00,375.68 L520.00,376.88 L510.00,378.05 L500.00,379.20 L490.00,380.33 L480.00,381.38 L470.00,382.38 L460.00,383.32 L450.00,384.20 L440.00,385.04 L430.00,385.83 L420.00,386.58 L410.00,387.29 L400.00,387.94 L390.00,388.54 L380.00,389.09 L370.00,389.58 L360.00,390.01 L350.00,390.44 L340.00,390.85 L330.00,391.27 L320.00,391.72 L310.00,392.21 L300.00,392.73 L290.00,393.29 L280.00,393.85 L270.00,394.41 L260.00,394.96 L250.00,395.47 L240.00,395.92 L230.00,396.32 L220.00,396.67 L210.00,396.98 L200.00,397.26 L190.00,397.53 L180.00,397.78 L170.00,398.03 L160.00,398.29 L155.70,398.40 L154.00,398.05 L140.00,395.18 L120.00,391.09 L100.00,386.99 L81.50,383.20 Z" fill="url(#s8)"/>
<path d="M81.50,383.20 L100.00,383.79 L120.00,384.43 L140.00,385.07 L154.00,385.52 L155.70,385.69 L160.00,385.57 L170.00,385.30 L180.00,385.02 L190.00,384.75 L200.00,384.46 L210.00,384.16 L220.00,383.85 L230.00,383.50 L240.00,383.11 L250.00,382.69 L260.00,382.21 L270.00,381.71 L280.00,381.20 L290.00,380.68 L300.00,380.17 L310.00,379.68 L320.00,379.22 L330.00,378.79 L340.00,378.39 L350.00,377.99 L360.00,377.58 L370.00,377.15 L380.00,376.67 L390.00,376.12 L400.00,375.51 L410.00,374.83 L420.00,374.09 L430.00,373.30 L440.00,372.47 L450.00,371.59 L460.00,370.68 L470.00,369.74 L480.00,368.75 L490.00,367.73 L500.00,366.65 L510.00,365.55 L520.00,364.44 L530.00,363.30 L540.00,362.16 L550.00,361.03 L560.00,359.91 L570.00,358.80 L580.00,357.51 L590.00,356.14 L600.00,354.74 L610.00,353.32 L620.00,351.87 L630.00,350.30 L640.00,348.67 L650.00,347.02 L660.00,345.33 L670.00,343.57 L680.00,341.72 L690.00,339.84 L700.00,337.93 L710.00,335.93 L720.00,333.72 L730.00,331.30 L740.00,328.79 L750.00,326.12 L760.00,323.20 L770.00,320.00 L780.00,316.53 L790.00,313.00 L800.00,309.21 L810.00,305.04 L820.00,300.24 L830.00,294.93 L830.00,307.00 L820.00,312.53 L810.00,317.53 L800.00,321.79 L790.00,325.66 L780.00,329.22 L770.00,332.60 L760.00,335.74 L750.00,338.64 L740.00,341.24 L730.00,343.73 L720.00,346.27 L710.00,348.67 L700.00,350.85 L690.00,352.76 L680.00,354.58 L670.00,356.35 L660.00,358.16 L650.00,359.88 L640.00,361.46 L630.00,363.07 L620.00,364.65 L610.00,366.08 L600.00,367.42 L590.00,368.71 L580.00,370.03 L570.00,371.22 L560.00,372.16 L550.00,373.30 L540.00,374.48 L530.00,375.68 L520.00,376.88 L510.00,378.05 L500.00,379.20 L490.00,380.33 L480.00,381.38 L470.00,382.38 L460.00,383.32 L450.00,384.20 L440.00,385.04 L430.00,385.83 L420.00,386.58 L410.00,387.29 L400.00,387.94 L390.00,388.54 L380.00,389.09 L370.00,389.58 L360.00,390.01 L350.00,390.44 L340.00,390.85 L330.00,391.27 L320.00,391.72 L310.00,392.21 L300.00,392.73 L290.00,393.29 L280.00,393.85 L270.00,394.41 L260.00,394.96 L250.00,395.47 L240.00,395.92 L230.00,396.32 L220.00,396.67 L210.00,396.98 L200.00,397.26 L190.00,397.53 L180.00,397.78 L170.00,398.03 L160.00,398.29 L155.70,398.40 L154.00,398.05 L140.00,395.18 L120.00,391.09 L100.00,386.99 L81.50,383.20 Z" fill="url(#s9)"/>
<path d="M81.50,383.20 L100.00,384.25 L120.00,385.38 L140.00,386.51 L154.00,387.31 L155.70,387.51 L160.00,387.39 L170.00,387.11 L180.00,386.85 L190.00,386.58 L200.00,386.29 L210.00,385.99 L220.00,385.68 L230.00,385.33 L240.00,384.94 L250.00,384.51 L260.00,384.03 L270.00,383.53 L280.00,383.01 L290.00,382.48 L300.00,381.97 L310.00,381.47 L320.00,381.01 L330.00,380.58 L340.00,380.17 L350.00,379.77 L360.00,379.36 L370.00,378.93 L380.00,378.45 L390.00,377.89 L400.00,377.28 L410.00,376.61 L420.00,375.88 L430.00,375.09 L440.00,374.26 L450.00,373.39 L460.00,372.49 L470.00,371.54 L480.00,370.55 L490.00,369.53 L500.00,368.45 L510.00,367.34 L520.00,366.21 L530.00,365.07 L540.00,363.92 L550.00,362.78 L560.00,361.66 L570.00,360.58 L580.00,359.30 L590.00,357.93 L600.00,356.55 L610.00,355.14 L620.00,353.70 L630.00,352.12 L640.00,350.50 L650.00,348.86 L660.00,347.16 L670.00,345.40 L680.00,343.56 L690.00,341.69 L700.00,339.77 L710.00,337.75 L720.00,335.51 L730.00,333.07 L740.00,330.57 L750.00,327.91 L760.00,324.99 L770.00,321.80 L780.00,318.35 L790.00,314.81 L800.00,311.01 L810.00,306.82 L820.00,302.00 L830.00,296.65 L830.00,307.00 L820.00,312.53 L810.00,317.53 L800.00,321.79 L790.00,325.66 L780.00,329.22 L770.00,332.60 L760.00,335.74 L750.00,338.64 L740.00,341.24 L730.00,343.73 L720.00,346.27 L710.00,348.67 L700.00,350.85 L690.00,352.76 L680.00,354.58 L670.00,356.35 L660.00,358.16 L650.00,359.88 L640.00,361.46 L630.00,363.07 L620.00,364.65 L610.00,366.08 L600.00,367.42 L590.00,368.71 L580.00,370.03 L570.00,371.22 L560.00,372.16 L550.00,373.30 L540.00,374.48 L530.00,375.68 L520.00,376.88 L510.00,378.05 L500.00,379.20 L490.00,380.33 L480.00,381.38 L470.00,382.38 L460.00,383.32 L450.00,384.20 L440.00,385.04 L430.00,385.83 L420.00,386.58 L410.00,387.29 L400.00,387.94 L390.00,388.54 L380.00,389.09 L370.00,389.58 L360.00,390.01 L350.00,390.44 L340.00,390.85 L330.00,391.27 L320.00,391.72 L310.00,392.21 L300.00,392.73 L290.00,393.29 L280.00,393.85 L270.00,394.41 L260.00,394.96 L250.00,395.47 L240.00,395.92 L230.00,396.32 L220.00,396.67 L210.00,396.98 L200.00,397.26 L190.00,397.53 L180.00,397.78 L170.00,398.03 L160.00,398.29 L155.70,398.40 L154.00,398.05 L140.00,395.18 L120.00,391.09 L100.00,386.99 L81.50,383.20 Z" fill="url(#s10)"/>
<path d="M81.50,383.20 L100.00,384.71 L120.00,386.33 L140.00,387.96 L154.00,389.10 L155.70,389.32 L160.00,389.20 L170.00,388.93 L180.00,388.67 L190.00,388.40 L200.00,388.12 L210.00,387.82 L220.00,387.51 L230.00,387.16 L240.00,386.77 L250.00,386.34 L260.00,385.85 L270.00,385.34 L280.00,384.82 L290.00,384.29 L300.00,383.76 L310.00,383.26 L320.00,382.80 L330.00,382.36 L340.00,381.95 L350.00,381.55 L360.00,381.14 L370.00,380.70 L380.00,380.22 L390.00,379.67 L400.00,379.06 L410.00,378.39 L420.00,377.66 L430.00,376.88 L440.00,376.06 L450.00,375.20 L460.00,374.29 L470.00,373.35 L480.00,372.36 L490.00,371.33 L500.00,370.24 L510.00,369.12 L520.00,367.99 L530.00,366.84 L540.00,365.68 L550.00,364.53 L560.00,363.41 L570.00,362.35 L580.00,361.09 L590.00,359.73 L600.00,358.36 L610.00,356.97 L620.00,355.52 L630.00,353.95 L640.00,352.32 L650.00,350.70 L660.00,348.99 L670.00,347.22 L680.00,345.40 L690.00,343.53 L700.00,341.62 L710.00,339.57 L720.00,337.31 L730.00,334.85 L740.00,332.35 L750.00,329.70 L760.00,326.78 L770.00,323.60 L780.00,320.16 L790.00,316.62 L800.00,312.81 L810.00,308.61 L820.00,303.75 L830.00,298.38 L830.00,307.00 L820.00,312.53 L810.00,317.53 L800.00,321.79 L790.00,325.66 L780.00,329.22 L770.00,332.60 L760.00,335.74 L750.00,338.64 L740.00,341.24 L730.00,343.73 L720.00,346.27 L710.00,348.67 L700.00,350.85 L690.00,352.76 L680.00,354.58 L670.00,356.35 L660.00,358.16 L650.00,359.88 L640.00,361.46 L630.00,363.07 L620.00,364.65 L610.00,366.08 L600.00,367.42 L590.00,368.71 L580.00,370.03 L570.00,371.22 L560.00,372.16 L550.00,373.30 L540.00,374.48 L530.00,375.68 L520.00,376.88 L510.00,378.05 L500.00,379.20 L490.00,380.33 L480.00,381.38 L470.00,382.38 L460.00,383.32 L450.00,384.20 L440.00,385.04 L430.00,385.83 L420.00,386.58 L410.00,387.29 L400.00,387.94 L390.00,388.54 L380.00,389.09 L370.00,389.58 L360.00,390.01 L350.00,390.44 L340.00,390.85 L330.00,391.27 L320.00,391.72 L310.00,392.21 L300.00,392.73 L290.00,393.29 L280.00,393.85 L270.00,394.41 L260.00,394.96 L250.00,395.47 L240.00,395.92 L230.00,396.32 L220.00,396.67 L210.00,396.98 L200.00,397.26 L190.00,397.53 L180.00,397.78 L170.00,398.03 L160.00,398.29 L155.70,398.40 L154.00,398.05 L140.00,395.18 L120.00,391.09 L100.00,386.99 L81.50,383.20 Z" fill="url(#s11)"/>
<path d="M81.50,383.20 L100.00,385.16 L120.00,387.28 L140.00,389.40 L154.00,390.89 L155.70,391.14 L160.00,391.02 L170.00,390.75 L180.00,390.49 L190.00,390.23 L200.00,389.95 L210.00,389.65 L220.00,389.34 L230.00,388.99 L240.00,388.60 L250.00,388.16 L260.00,387.68 L270.00,387.16 L280.00,386.62 L290.00,386.09 L300.00,385.55 L310.00,385.05 L320.00,384.58 L330.00,384.14 L340.00,383.73 L350.00,383.33 L360.00,382.91 L370.00,382.48 L380.00,381.99 L390.00,381.44 L400.00,380.84 L410.00,380.17 L420.00,379.44 L430.00,378.67 L440.00,377.85 L450.00,377.00 L460.00,376.10 L470.00,375.15 L480.00,374.16 L490.00,373.13 L500.00,372.03 L510.00,370.91 L520.00,369.77 L530.00,368.61 L540.00,367.44 L550.00,366.29 L560.00,365.16 L570.00,364.13 L580.00,362.88 L590.00,361.52 L600.00,360.17 L610.00,358.79 L620.00,357.35 L630.00,355.77 L640.00,354.15 L650.00,352.53 L660.00,350.83 L670.00,349.05 L680.00,347.23 L690.00,345.38 L700.00,343.46 L710.00,341.39 L720.00,339.10 L730.00,336.63 L740.00,334.13 L750.00,331.49 L760.00,328.57 L770.00,325.40 L780.00,321.97 L790.00,318.43 L800.00,314.60 L810.00,310.39 L820.00,305.51 L830.00,300.10 L830.00,307.00 L820.00,312.53 L810.00,317.53 L800.00,321.79 L790.00,325.66 L780.00,329.22 L770.00,332.60 L760.00,335.74 L750.00,338.64 L740.00,341.24 L730.00,343.73 L720.00,346.27 L710.00,348.67 L700.00,350.85 L690.00,352.76 L680.00,354.58 L670.00,356.35 L660.00,358.16 L650.00,359.88 L640.00,361.46 L630.00,363.07 L620.00,364.65 L610.00,366.08 L600.00,367.42 L590.00,368.71 L580.00,370.03 L570.00,371.22 L560.00,372.16 L550.00,373.30 L540.00,374.48 L530.00,375.68 L520.00,376.88 L510.00,378.05 L500.00,379.20 L490.00,380.33 L480.00,381.38 L470.00,382.38 L460.00,383.32 L450.00,384.20 L440.00,385.04 L430.00,385.83 L420.00,386.58 L410.00,387.29 L400.00,387.94 L390.00,388.54 L380.00,389.09 L370.00,389.58 L360.00,390.01 L350.00,390.44 L340.00,390.85 L330.00,391.27 L320.00,391.72 L310.00,392.21 L300.00,392.73 L290.00,393.29 L280.00,393.85 L270.00,394.41 L260.00,394.96 L250.00,395.47 L240.00,395.92 L230.00,396.32 L220.00,396.67 L210.00,396.98 L200.00,397.26 L190.00,397.53 L180.00,397.78 L170.00,398.03 L160.00,398.29 L155.70,398.40 L154.00,398.05 L140.00,395.18 L120.00,391.09 L100.00,386.99 L81.50,383.20 Z" fill="url(#s12)"/>
<path d="M81.50,383.20 L100.00,385.62 L120.00,388.23 L140.00,390.85 L154.00,392.68 L155.70,392.95 L160.00,392.84 L170.00,392.57 L180.00,392.32 L190.00,392.05 L200.00,391.78 L210.00,391.48 L220.00,391.17 L230.00,390.82 L240.00,390.43 L250.00,389.99 L260.00,389.50 L270.00,388.97 L280.00,388.43 L290.00,387.89 L300.00,387.35 L310.00,386.84 L320.00,386.37 L330.00,385.92 L340.00,385.51 L350.00,385.10 L360.00,384.69 L370.00,384.25 L380.00,383.77 L390.00,383.22 L400.00,382.61 L410.00,381.95 L420.00,381.23 L430.00,380.46 L440.00,379.65 L450.00,378.80 L460.00,377.90 L470.00,376.96 L480.00,375.97 L490.00,374.93 L500.00,373.83 L510.00,372.69 L520.00,371.54 L530.00,370.37 L540.00,369.20 L550.00,368.04 L560.00,366.91 L570.00,365.90 L580.00,364.66 L590.00,363.32 L600.00,361.99 L610.00,360.61 L620.00,359.17 L630.00,357.60 L640.00,355.98 L650.00,354.37 L660.00,352.66 L670.00,350.87 L680.00,349.07 L690.00,347.22 L700.00,345.31 L710.00,343.21 L720.00,340.89 L730.00,338.40 L740.00,335.91 L750.00,333.27 L760.00,330.37 L770.00,327.20 L780.00,323.78 L790.00,320.24 L800.00,316.40 L810.00,312.18 L820.00,307.26 L830.00,301.82 L830.00,307.00 L820.00,312.53 L810.00,317.53 L800.00,321.79 L790.00,325.66 L780.00,329.22 L770.00,332.60 L760.00,335.74 L750.00,338.64 L740.00,341.24 L730.00,343.73 L720.00,346.27 L710.00,348.67 L700.00,350.85 L690.00,352.76 L680.00,354.58 L670.00,356.35 L660.00,358.16 L650.00,359.88 L640.00,361.46 L630.00,363.07 L620.00,364.65 L610.00,366.08 L600.00,367.42 L590.00,368.71 L580.00,370.03 L570.00,371.22 L560.00,372.16 L550.00,373.30 L540.00,374.48 L530.00,375.68 L520.00,376.88 L510.00,378.05 L500.00,379.20 L490.00,380.33 L480.00,381.38 L470.00,382.38 L460.00,383.32 L450.00,384.20 L440.00,385.04 L430.00,385.83 L420.00,386.58 L410.00,387.29 L400.00,387.94 L390.00,388.54 L380.00,389.09 L370.00,389.58 L360.00,390.01 L350.00,390.44 L340.00,390.85 L330.00,391.27 L320.00,391.72 L310.00,392.21 L300.00,392.73 L290.00,393.29 L280.00,393.85 L270.00,394.41 L260.00,394.96 L250.00,395.47 L240.00,395.92 L230.00,396.32 L220.00,396.67 L210.00,396.98 L200.00,397.26 L190.00,397.53 L180.00,397.78 L170.00,398.03 L160.00,398.29 L155.70,398.40 L154.00,398.05 L140.00,395.18 L120.00,391.09 L100.00,386.99 L81.50,383.20 Z" fill="url(#s13)"/>
<path d="M81.50,383.20 L100.00,386.08 L120.00,389.18 L140.00,392.29 L154.00,394.47 L155.70,394.77 L160.00,394.65 L170.00,394.39 L180.00,394.14 L190.00,393.88 L200.00,393.60 L210.00,393.32 L220.00,393.01 L230.00,392.65 L240.00,392.26 L250.00,391.82 L260.00,391.32 L270.00,390.79 L280.00,390.24 L290.00,389.69 L300.00,389.14 L310.00,388.63 L320.00,388.15 L330.00,387.71 L340.00,387.29 L350.00,386.88 L360.00,386.46 L370.00,386.03 L380.00,385.54 L390.00,384.99 L400.00,384.39 L410.00,383.73 L420.00,383.01 L430.00,382.25 L440.00,381.45 L450.00,380.60 L460.00,379.71 L470.00,378.77 L480.00,377.77 L490.00,376.73 L500.00,375.62 L510.00,374.48 L520.00,373.32 L530.00,372.14 L540.00,370.96 L550.00,369.79 L560.00,368.66 L570.00,367.68 L580.00,366.45 L590.00,365.12 L600.00,363.80 L610.00,362.43 L620.00,361.00 L630.00,359.42 L640.00,357.80 L650.00,356.21 L660.00,354.49 L670.00,352.70 L680.00,350.91 L690.00,349.07 L700.00,347.16 L710.00,345.03 L720.00,342.68 L730.00,340.18 L740.00,337.68 L750.00,335.06 L760.00,332.16 L770.00,329.00 L780.00,325.59 L790.00,322.04 L800.00,318.20 L810.00,313.96 L820.00,309.02 L830.00,303.55 L830.00,307.00 L820.00,312.53 L810.00,317.53 L800.00,321.79 L790.00,325.66 L780.00,329.22 L770.00,332.60 L760.00,335.74 L750.00,338.64 L740.00,341.24 L730.00,343.73 L720.00,346.27 L710.00,348.67 L700.00,350.85 L690.00,352.76 L680.00,354.58 L670.00,356.35 L660.00,358.16 L650.00,359.88 L640.00,361.46 L630.00,363.07 L620.00,364.65 L610.00,366.08 L600.00,367.42 L590.00,368.71 L580.00,370.03 L570.00,371.22 L560.00,372.16 L550.00,373.30 L540.00,374.48 L530.00,375.68 L520.00,376.88 L510.00,378.05 L500.00,379.20 L490.00,380.33 L480.00,381.38 L470.00,382.38 L460.00,383.32 L450.00,384.20 L440.00,385.04 L430.00,385.83 L420.00,386.58 L410.00,387.29 L400.00,387.94 L390.00,388.54 L380.00,389.09 L370.00,389.58 L360.00,390.01 L350.00,390.44 L340.00,390.85 L330.00,391.27 L320.00,391.72 L310.00,392.21 L300.00,392.73 L290.00,393.29 L280.00,393.85 L270.00,394.41 L260.00,394.96 L250.00,395.47 L240.00,395.92 L230.00,396.32 L220.00,396.67 L210.00,396.98 L200.00,397.26 L190.00,397.53 L180.00,397.78 L170.00,398.03 L160.00,398.29 L155.70,398.40 L154.00,398.05 L140.00,395.18 L120.00,391.09 L100.00,386.99 L81.50,383.20 Z" fill="url(#s14)"/>
<path d="M81.50,383.20 L100.00,386.53 L120.00,390.14 L140.00,393.74 L154.00,396.26 L155.70,396.58 L160.00,396.47 L170.00,396.21 L180.00,395.96 L190.00,395.71 L200.00,395.43 L210.00,395.15 L220.00,394.84 L230.00,394.49 L240.00,394.09 L250.00,393.64 L260.00,393.14 L270.00,392.60 L280.00,392.05 L290.00,391.49 L300.00,390.94 L310.00,390.42 L320.00,389.94 L330.00,389.49 L340.00,389.07 L350.00,388.66 L360.00,388.24 L370.00,387.80 L380.00,387.32 L390.00,386.77 L400.00,386.16 L410.00,385.51 L420.00,384.80 L430.00,384.04 L440.00,383.24 L450.00,382.40 L460.00,381.51 L470.00,380.57 L480.00,379.57 L490.00,378.53 L500.00,377.41 L510.00,376.27 L520.00,375.10 L530.00,373.91 L540.00,372.72 L550.00,371.54 L560.00,370.41 L570.00,369.45 L580.00,368.24 L590.00,366.91 L600.00,365.61 L610.00,364.25 L620.00,362.82 L630.00,361.25 L640.00,359.63 L650.00,358.04 L660.00,356.32 L670.00,354.52 L680.00,352.75 L690.00,350.92 L700.00,349.00 L710.00,346.85 L720.00,344.47 L730.00,341.96 L740.00,339.46 L750.00,336.85 L760.00,333.95 L770.00,330.80 L780.00,327.41 L790.00,323.85 L800.00,320.00 L810.00,315.75 L820.00,310.77 L830.00,305.27 L830.00,307.00 L820.00,312.53 L810.00,317.53 L800.00,321.79 L790.00,325.66 L780.00,329.22 L770.00,332.60 L760.00,335.74 L750.00,338.64 L740.00,341.24 L730.00,343.73 L720.00,346.27 L710.00,348.67 L700.00,350.85 L690.00,352.76 L680.00,354.58 L670.00,356.35 L660.00,358.16 L650.00,359.88 L640.00,361.46 L630.00,363.07 L620.00,364.65 L610.00,366.08 L600.00,367.42 L590.00,368.71 L580.00,370.03 L570.00,371.22 L560.00,372.16 L550.00,373.30 L540.00,374.48 L530.00,375.68 L520.00,376.88 L510.00,378.05 L500.00,379.20 L490.00,380.33 L480.00,381.38 L470.00,382.38 L460.00,383.32 L450.00,384.20 L440.00,385.04 L430.00,385.83 L420.00,386.58 L410.00,387.29 L400.00,387.94 L390.00,388.54 L380.00,389.09 L370.00,389.58 L360.00,390.01 L350.00,390.44 L340.00,390.85 L330.00,391.27 L320.00,391.72 L310.00,392.21 L300.00,392.73 L290.00,393.29 L280.00,393.85 L270.00,394.41 L260.00,394.96 L250.00,395.47 L240.00,395.92 L230.00,396.32 L220.00,396.67 L210.00,396.98 L200.00,397.26 L190.00,397.53 L180.00,397.78 L170.00,398.03 L160.00,398.29 L155.70,398.40 L154.00,398.05 L140.00,395.18 L120.00,391.09 L100.00,386.99 L81.50,383.20 Z" fill="url(#s15)"/>
<path d="M81.50,383.20 L155.70,398.40 L170.18,398.03 L190.97,397.51 L214.20,396.86 L236.00,396.10 L255.57,395.19 L274.89,394.14 L294.27,393.05 L314.00,392.00 L334.31,391.09 L355.00,390.23 L375.69,389.31 L396.00,388.20 L415.69,386.89 L435.00,385.45 L454.31,383.83" fill="none" stroke="#6a9ec4" stroke-opacity=".55" stroke-width="1"/>
<path d="M81.50,383.20 L154.00,369.40 L168.83,368.95 L190.12,368.31 L213.86,367.57 L236.00,366.80 L255.69,366.01 L275.00,365.16 L294.31,364.28 L314.00,363.40 L334.31,362.59 L355.00,361.81 L375.69,360.92 L396.00,359.80 L415.69,358.39 L435.00,356.76 L454.31,354.97 L474.00,353.10 L495.76,350.95 L518.86,348.56 L540.03,346.32 L556.00,344.60 L564.67,343.63 L568.21,343.16 L569.69,342.89 L572.20,342.50 L576.27,341.94 L580.35,341.38 L584.43,340.79 L588.50,340.20 L592.55,339.59 L596.60,338.96 L600.65,338.32 L604.70,337.70 L608.77,337.10 L612.85,336.51 L616.93,335.91" fill="none" stroke="#0a2c96" stroke-opacity=".45" stroke-width="1"/>
<path d="M81.40,136.50 C87.33,136.53 110.90,136.48 117.00,136.70 C123.10,136.92 110.83,137.57 118.00,137.80 C125.17,138.03 140.33,137.90 160.00,138.10 C179.67,138.30 210.33,138.37 236.00,139.00 C261.67,139.63 294.17,140.97 314.00,141.90 C333.83,142.83 341.33,143.73 355.00,144.60 C368.67,145.47 376.17,145.65 396.00,147.10 C415.83,148.55 447.33,150.95 474.00,153.30 C500.67,155.65 536.92,159.20 556.00,161.20 C575.08,163.20 577.67,163.80 588.50,165.30 C599.33,166.80 610.17,168.43 621.00,170.20 C631.83,171.97 642.67,174.02 653.50,175.90 C664.33,177.78 678.25,180.15 686.00,181.50 C693.75,182.85 694.97,183.00 700.00,184.00 C705.03,185.00 710.78,186.18 716.20,187.50 C721.62,188.82 727.08,190.35 732.50,191.90 C737.92,193.45 743.28,195.17 748.70,196.80 C754.12,198.43 759.58,200.00 765.00,201.70 C770.42,203.40 775.78,205.18 781.20,207.00 C786.62,208.82 792.08,210.65 797.50,212.60 C802.92,214.55 808.28,216.43 813.70,218.70 C819.12,220.97 826.03,224.22 830.00,226.20 C833.97,228.18 835.12,228.88 837.50,230.60 C839.88,232.32 842.30,234.43 844.30,236.50 C846.30,238.57 848.18,240.75 849.50,243.00 C850.82,245.25 851.62,247.67 852.20,250.00 C852.78,252.33 852.87,255.83 853.00,257.00 L853,272 L852.3,280.4 L847.30,268.40 C846.77,268.02 846.13,267.45 844.10,266.10 C842.07,264.75 838.10,262.18 835.10,260.30 C832.10,258.42 829.10,256.62 826.10,254.80 C823.10,252.98 820.12,251.12 817.10,249.40 C814.08,247.68 811.02,246.05 808.00,244.50 C804.98,242.95 802.00,241.42 799.00,240.10 C796.00,238.78 793.17,237.68 790.00,236.60 C786.83,235.52 784.17,234.87 780.00,233.60 C775.83,232.33 770.22,230.53 765.00,229.00 C759.78,227.47 754.12,225.90 748.70,224.40 C743.28,222.90 737.92,221.35 732.50,220.00 C727.08,218.65 721.62,217.63 716.20,216.30 C710.78,214.97 705.03,213.18 700.00,212.00 C694.97,210.82 693.75,210.53 686.00,209.20 C678.25,207.87 664.33,205.77 653.50,204.00 C642.67,202.23 631.83,200.32 621.00,198.60 C610.17,196.88 599.33,195.10 588.50,193.70 C577.67,192.30 575.08,192.17 556.00,190.20 C536.92,188.23 500.67,184.37 474.00,181.90 C447.33,179.43 415.83,176.97 396.00,175.40 C376.17,173.83 368.67,173.25 355.00,172.50 C341.33,171.75 333.83,171.75 314.00,170.90 C294.17,170.05 261.67,168.18 236.00,167.40 C210.33,166.62 185.77,166.55 160.00,166.20 C134.23,165.85 94.50,165.45 81.40,165.30 Z" fill="url(#gt)"/>
<circle cx="105.7" cy="148.4" r="4.20" fill="#fff" stroke="#07073f" stroke-width="2.0"/>
<circle cx="239.9" cy="148.7" r="4.20" fill="#fff" stroke="#07073f" stroke-width="2.0"/>
<circle cx="372.3" cy="156.4" r="4.20" fill="#fff" stroke="#07073f" stroke-width="2.0"/>
<circle cx="502.0" cy="166.4" r="4.20" fill="#fff" stroke="#07073f" stroke-width="2.0"/>
<circle cx="618.4" cy="179.0" r="4.20" fill="#fff" stroke="#07073f" stroke-width="2.0"/>
<circle cx="724.9" cy="197.8" r="4.20" fill="#fff" stroke="#07073f" stroke-width="2.0"/>
<circle cx="807.0" cy="228.0" r="4.20" fill="#fff" stroke="#091058" stroke-width="2.0"/>
<circle cx="827.2" cy="297.0" r="4.20" fill="#fff" stroke="#091058" stroke-width="2.0"/>
<circle cx="756.5" cy="328.0" r="4.20" fill="#fff" stroke="#0a1460" stroke-width="2.0"/>
<circle cx="650.5" cy="349.6" r="4.20" fill="#fff" stroke="#0a1460" stroke-width="2.0"/>
<circle cx="541.5" cy="365.1" r="4.10" fill="#fff" stroke="#1c3a74" stroke-width="1.9"/>
<circle cx="437.1" cy="376.2" r="4.10" fill="#fff" stroke="#1c3a74" stroke-width="1.9"/>
<circle cx="306.3" cy="386.3" r="4.00" fill="#fff" stroke="#46607a" stroke-width="1.8"/>
<circle cx="166.3" cy="388.0" r="4.00" fill="#fff" stroke="#46607a" stroke-width="1.8"/>
<rect x="814.1" y="329.1" width="119.6" height="62.2" fill="none" stroke="#333" stroke-width="1.3"/>
<rect x="109.6" y="429.2" width="113.8" height="55.2" fill="none" stroke="#5f6b6b" stroke-width="1.4"/>
<g opacity="0.999">
<g transform="translate(111.20,49.40) scale(0.9330,1)"><text class="y" text-anchor="middle" textLength="58.95" lengthAdjust="spacing">C1500s</text></g>
<g transform="translate(111.00,66.90) scale(0.7400,1)"><text class="d" text-anchor="middle" textLength="113.78" lengthAdjust="spacing">Contact lens</text></g>
<g transform="translate(111.00,84.40) scale(0.6974,1)"><text class="d" text-anchor="middle" textLength="71.69" lengthAdjust="spacing">concept</text></g>
<g transform="translate(111.00,101.50) scale(0.7152,1)"><text class="d" text-anchor="middle" textLength="89.49" lengthAdjust="spacing">(Da Vinci)</text></g>
<g transform="translate(240.70,52.10) scale(0.9896,1)"><text class="y" text-anchor="middle" textLength="37.89" lengthAdjust="spacing">1636</text></g>
<g transform="translate(240.50,70.00) scale(0.7756,1)"><text class="d" text-anchor="middle" textLength="154.72" lengthAdjust="spacing">Glass liquid-filled</text></g>
<g transform="translate(240.20,87.50) scale(0.7432,1)"><text class="d" text-anchor="middle" textLength="136.57" lengthAdjust="spacing">tube on cornea</text></g>
<g transform="translate(241.50,104.50) scale(0.7374,1)"><text class="d" text-anchor="middle" textLength="105.78" lengthAdjust="spacing">(Descartes)</text></g>
<g transform="translate(372.20,59.60) scale(0.9368,1)"><text class="y" text-anchor="middle" textLength="37.89" lengthAdjust="spacing">1801</text></g>
<g transform="translate(373.70,77.00) scale(0.7425,1)"><text class="d" text-anchor="middle" textLength="164.98" lengthAdjust="spacing">Fluid-filled eyecup</text></g>
<g transform="translate(372.80,94.50) scale(0.7903,1)"><text class="d" text-anchor="middle" textLength="118.31" lengthAdjust="spacing">on orbital rim</text></g>
<g transform="translate(373.50,112.50) scale(0.7330,1)"><text class="d" text-anchor="middle" textLength="70.94" lengthAdjust="spacing">(Young)</text></g>
<g transform="translate(502.50,47.10) scale(0.9500,1)"><text class="y" text-anchor="middle" textLength="37.89" lengthAdjust="spacing">1823</text></g>
<g transform="translate(502.70,65.00) scale(0.7350,1)"><text class="d" text-anchor="middle" textLength="128.57" lengthAdjust="spacing">Glass capsule</text></g>
<g transform="translate(502.20,82.50) scale(0.7661,1)"><text class="d" text-anchor="middle" textLength="84.19" lengthAdjust="spacing">filled with</text></g>
<g transform="translate(503.00,100.50) scale(0.7901,1)"><text class="d" text-anchor="middle" textLength="101.25" lengthAdjust="spacing">animal jelly</text></g>
<g transform="translate(503.00,118.00) scale(0.7277,1)"><text class="d" text-anchor="middle" textLength="94.40" lengthAdjust="spacing">(Herschel)</text></g>
<g transform="translate(618.80,78.10) scale(0.9632,1)"><text class="y" text-anchor="middle" textLength="37.89" lengthAdjust="spacing">1888</text></g>
<g transform="translate(618.00,96.00) scale(0.7558,1)"><text class="d" text-anchor="middle" textLength="121.73" lengthAdjust="spacing">Afocal scleral</text></g>
<g transform="translate(619.40,113.75) scale(0.7839,1)"><text class="d" text-anchor="middle" textLength="113.78" lengthAdjust="spacing">lenses fitting</text></g>
<g transform="translate(619.20,131.75) scale(0.7413,1)"><text class="d" text-anchor="middle" textLength="97.80" lengthAdjust="spacing">(Fick, Kalt)</text></g>
<g transform="translate(725.70,91.70) scale(0.9368,1)"><text class="y" text-anchor="middle" textLength="37.89" lengthAdjust="spacing">1889</text></g>
<g transform="translate(725.60,109.50) scale(0.7113,1)"><text class="d" text-anchor="middle" textLength="124.00" lengthAdjust="spacing">First powered</text></g>
<g transform="translate(725.60,127.00) scale(0.7479,1)"><text class="d" text-anchor="middle" textLength="109.24" lengthAdjust="spacing">contact lens</text></g>
<g transform="translate(725.50,144.30) scale(0.7510,1)"><text class="d" text-anchor="middle" textLength="155.79" lengthAdjust="spacing">(Müller, Himmler)</text></g>
<g transform="translate(840.70,128.20) scale(1.0028,1)"><text class="y" text-anchor="middle" textLength="37.89" lengthAdjust="spacing">1939</text></g>
<g transform="translate(841.00,146.00) scale(0.7148,1)"><text class="d" text-anchor="middle" textLength="103.52" lengthAdjust="spacing">PMMA lens</text></g>
<g transform="translate(841.70,164.50) scale(0.8135,1)"><text class="d" text-anchor="middle" textLength="48.93" lengthAdjust="spacing">fitting</text></g>
<g transform="translate(840.50,181.60) scale(0.7194,1)"><text class="d" text-anchor="middle" textLength="79.23" lengthAdjust="spacing">(Gyorffy)</text></g>
<g transform="translate(873.00,349.10) scale(0.9500,1)"><text class="y" text-anchor="middle" textLength="37.89" lengthAdjust="spacing">1960</text></g>
<g transform="translate(873.50,366.70) scale(0.6256,1)"><text class="d" text-anchor="middle" textLength="59.14" lengthAdjust="spacing">HEMA</text></g>
<g transform="translate(873.50,383.50) scale(0.7278,1)"><text class="d" text-anchor="middle" textLength="143.30" lengthAdjust="spacing">(Wichterle, Lim)</text></g>
<g transform="translate(758.10,385.60) scale(0.9447,1)"><text class="y" text-anchor="middle" textLength="37.89" lengthAdjust="spacing">1961</text></g>
<g transform="translate(757.80,403.70) scale(0.7048,1)"><text class="d" text-anchor="middle" textLength="122.87" lengthAdjust="spacing">HEMA lenses</text></g>
<g transform="translate(758.20,420.80) scale(0.7764,1)"><text class="d" text-anchor="middle" textLength="109.23" lengthAdjust="spacing">spin-casting</text></g>
<g transform="translate(758.00,438.60) scale(0.7348,1)"><text class="d" text-anchor="middle" textLength="98.94" lengthAdjust="spacing">(Wichterle)</text></g>
<g transform="translate(650.80,410.80) scale(1.0424,1)"><text class="y" text-anchor="middle" textLength="37.89" lengthAdjust="spacing">1972</text></g>
<g transform="translate(650.80,428.00) scale(0.7801,1)"><text class="d" text-anchor="middle" textLength="128.58" lengthAdjust="spacing">Soft lenses hit</text></g>
<g transform="translate(650.00,445.10) scale(0.7605,1)"><text class="d" text-anchor="middle" textLength="117.16" lengthAdjust="spacing">world market</text></g>
<g transform="translate(651.00,463.50) scale(0.7405,1)"><text class="d" text-anchor="middle" textLength="158.14" lengthAdjust="spacing">(Bausch &amp; Lomb)</text></g>
<g transform="translate(540.50,422.30) scale(0.9764,1)"><text class="y" text-anchor="middle" textLength="37.89" lengthAdjust="spacing">1974</text></g>
<g transform="translate(540.50,440.50) scale(0.7184,1)"><text class="d" text-anchor="middle" textLength="71.69" lengthAdjust="spacing">Silicone</text></g>
<g transform="translate(540.00,458.00) scale(0.7704,1)"><text class="d" text-anchor="middle" textLength="81.91" lengthAdjust="spacing">acrylates</text></g>
<g transform="translate(540.50,476.00) scale(0.7303,1)"><text class="d" text-anchor="middle" textLength="85.31" lengthAdjust="spacing">(Gaylord)</text></g>
<g transform="translate(438.90,436.50) scale(0.9579,1)"><text class="y" text-anchor="middle" textLength="37.89" lengthAdjust="spacing">1984</text></g>
<g transform="translate(438.90,454.80) scale(0.7555,1)"><text class="d" text-anchor="middle" textLength="143.35" lengthAdjust="spacing">First disposable</text></g>
<g transform="translate(439.30,472.40) scale(0.7030,1)"><text class="d" text-anchor="middle" textLength="37.55" lengthAdjust="spacing">lens</text></g>
<g transform="translate(305.80,439.70) scale(0.9500,1)"><text class="y" text-anchor="middle" textLength="37.89" lengthAdjust="spacing">1998</text></g>
<g transform="translate(306.40,458.00) scale(0.7268,1)"><text class="d" text-anchor="middle" textLength="155.89" lengthAdjust="spacing">Silicone hydrogel</text></g>
<g transform="translate(306.40,475.60) scale(0.7301,1)"><text class="d" text-anchor="middle" textLength="59.17" lengthAdjust="spacing">lenses</text></g>
<g transform="translate(306.00,493.20) scale(0.7186,1)"><text class="d" text-anchor="middle" textLength="120.23" lengthAdjust="spacing">(CIBA Vision,</text></g>
<g transform="translate(166.00,462.40) scale(0.7539,1)"><text class="d" text-anchor="middle" textLength="126.28" lengthAdjust="spacing">Smart contact</text></g>
<g transform="translate(165.00,479.70) scale(0.7335,1)"><text class="d" text-anchor="middle" textLength="59.17" lengthAdjust="spacing">lenses</text></g>
<g transform="translate(144.60,444.50) scale(0.7242,1)"><text class="fb" text-anchor="middle" textLength="47.22" lengthAdjust="spacing">From</text></g>
<g transform="translate(185.20,444.60) scale(0.9289,1)"><text class="y" text-anchor="middle" textLength="37.89" lengthAdjust="spacing">2014</text></g>
<text class="ct" x="907" y="423.8" font-size="10.6" textLength="18" lengthAdjust="spacingAndGlyphs">OH</text>
</g>
<g class="chem">
<path d="M822.7,420.6 L839.2,428.2"/>
<path d="M824.5,417.9 L840.6,425.6"/>
<path d="M839.6,427 L839.6,444"/>
<path d="M839.6,427 L853.2,420.2"/>
<path d="M853.2,420.2 L853.2,409"/>
<path d="M853.2,420.2 L861.4,424.8"/>
<path d="M872.2,424.3 L880.5,419.5 L897,428 L906.5,422.4"/>
<ellipse cx="853.2" cy="403.6" rx="2.1" ry="3.1" stroke-width="1.3"/>
<ellipse cx="866" cy="427.4" rx="4" ry="3.9" stroke-width="1.8"/>
</g>
</svg>
</body>
</html>
